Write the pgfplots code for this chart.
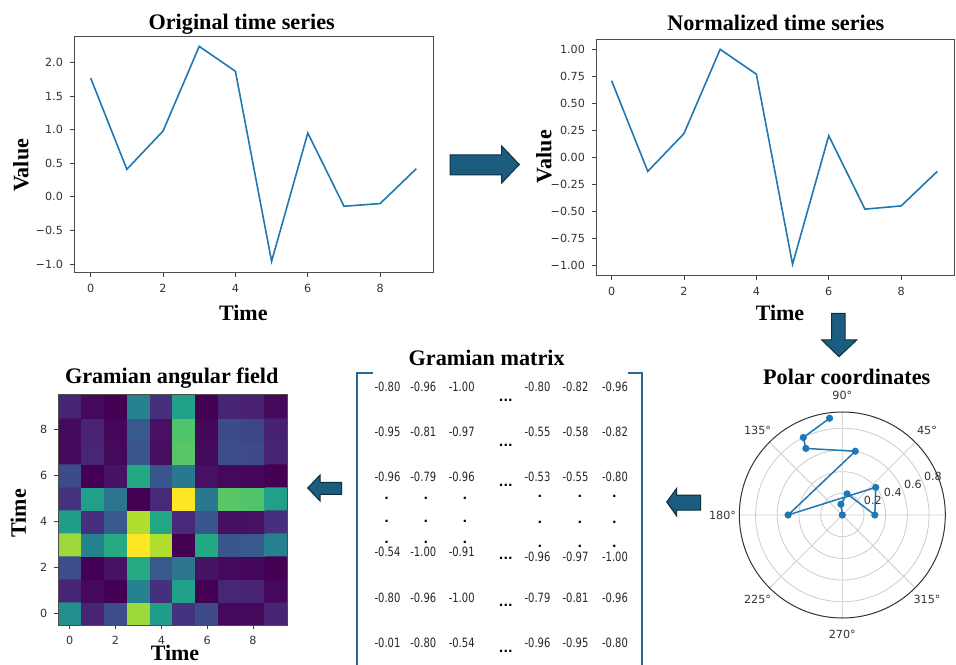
\documentclass[border=0pt]{standalone}
\usepackage{fontspec}
\setmainfont{Liberation Serif}
\newfontfamily\dejavu{DejaVu Sans}
\newfontfamily\matfont[FakeStretch=0.78]{DejaVu Sans}
\usepackage{pgfplots}
\usepackage{pgfplotstable}
\pgfplotsset{compat=1.18}
\usepgfplotslibrary{polar}
\definecolor{mplblue}{HTML}{1F77B4}
\definecolor{arrowfill}{HTML}{1C5C7E}
\definecolor{arrowdraw}{HTML}{0E2F40}
\definecolor{bracket}{HTML}{2A6A8C}
\newcommand{\tickfont}{\dejavu\fontsize{5.6}{6.5}\selectfont}
\newcommand{\titlefont}{\bfseries\fontsize{11.1}{13}\selectfont}
\newcommand{\labfont}{\bfseries\fontsize{11}{13}\selectfont}
\newcommand{\mfont}{\matfont\fontsize{6.4}{7}\selectfont}

\pgfplotstableread{
x y z
0 0 -0.01
1 0 -0.80
2 0 -0.54
3 0 0.71
4 0 0.10
5 0 -0.71
6 0 -0.55
7 0 -0.96
8 0 -0.95
9 0 -0.80
0 1 -0.80
1 1 -0.96
2 1 -1.00
3 1 -0.13
4 1 -0.73
5 1 0.13
6 1 -1.00
7 1 -0.79
8 1 -0.81
9 1 -0.96
0 2 -0.54
1 2 -1.00
2 2 -0.91
3 2 0.22
4 2 -0.45
5 2 -0.22
6 2 -0.91
7 2 -0.96
8 2 -0.97
9 2 -1.00
0 3 0.71
1 3 -0.13
2 3 0.22
3 3 1.00
4 3 0.77
5 3 -1.00
6 3 0.20
7 3 -0.48
8 3 -0.45
9 3 -0.13
0 4 0.10
1 4 -0.73
2 4 -0.45
3 4 0.77
4 4 0.19
5 4 -0.77
6 4 -0.47
7 4 -0.93
8 4 -0.92
9 4 -0.73
0 5 -0.71
1 5 0.13
2 5 -0.22
3 5 -1.00
4 5 -0.77
5 5 1.00
6 5 -0.20
7 5 0.48
8 5 0.45
9 5 0.13
0 6 -0.55
1 6 -1.00
2 6 -0.91
3 6 0.20
4 6 -0.47
5 6 -0.20
6 6 -0.92
7 6 -0.96
8 6 -0.97
9 6 -1.00
0 7 -0.96
1 7 -0.79
2 7 -0.96
3 7 -0.48
4 7 -0.93
5 7 0.48
6 7 -0.96
7 7 -0.53
8 7 -0.55
9 7 -0.80
0 8 -0.95
1 8 -0.81
2 8 -0.97
3 8 -0.45
4 8 -0.92
5 8 0.45
6 8 -0.97
7 8 -0.55
8 8 -0.58
9 8 -0.82
0 9 -0.80
1 9 -0.96
2 9 -1.00
3 9 -0.13
4 9 -0.73
5 9 0.13
6 9 -1.00
7 9 -0.80
8 9 -0.82
9 9 -0.96
}\gaf

\pgfplotsset{
  mplstyle/.style={
    scale only axis,
    tick pos=left, tick align=outside, major tick length=2pt,
    ticklabel style={font=\tickfont, text=black!80},
    tick style={black!75, line width=0.4pt},
    axis line style={black!70, line width=0.5pt},
  }
}

\begin{document}
\begin{tikzpicture}
\useasboundingbox (0,0) rectangle (478pt,332pt);

% ---------- Original time series ----------
\begin{axis}[mplstyle,
  at={(37pt,195.5pt)}, anchor=south west,
  width=179.5pt, height=118pt,
  xmin=-0.46, xmax=9.46, ymin=-1.134, ymax=2.38,
  xtick={0,2,4,6,8}, xticklabels={0,2,4,6,8},
  ytick={-1,-0.5,0,0.5,1,1.5,2},
  yticklabels={−1.0,−0.5,0.0,0.5,1.0,1.5,2.0},
]
\addplot[mplblue, line width=0.8pt] coordinates {
(0,1.77) (1,0.41) (2,0.98) (3,2.24) (4,1.87) (5,-0.96) (6,0.95) (7,-0.14) (8,-0.10) (9,0.42)};
\end{axis}

% ---------- Normalized time series ----------
\begin{axis}[mplstyle,
  at={(298pt,194pt)}, anchor=south west,
  width=179pt, height=118.35pt,
  xmin=-0.43, xmax=9.46, ymin=-1.099, ymax=1.093,
  xtick={0,2,4,6,8}, xticklabels={0,2,4,6,8},
  ytick={-1,-0.75,-0.5,-0.25,0,0.25,0.5,0.75,1},
  yticklabels={−1.00,−0.75,−0.50,−0.25,0.00,0.25,0.50,0.75,1.00},
]
\addplot[mplblue, line width=0.8pt] coordinates {
(0,0.71) (1,-0.13) (2,0.22) (3,1.00) (4,0.77) (5,-0.99) (6,0.20) (7,-0.48) (8,-0.45) (9,-0.13)};
\end{axis}

% ---------- Gramian angular field ----------
\begin{axis}[mplstyle,
  at={(29.15pt,19.5pt)}, anchor=south west,
  width=114.5pt, height=115pt,
  xmin=-0.5, xmax=9.5, ymin=-0.5, ymax=9.5,
  xtick={0,2,4,6,8}, xticklabels={0,2,4,6,8},
  ytick={0,2,4,6,8}, yticklabels={0,2,4,6,8},
  colormap/viridis, point meta min=-1, point meta max=1,
  axis on top,
]
\addplot[matrix plot*, mesh/cols=10, point meta=explicit] table[x=x, y=y, meta=z] {\gaf};
\end{axis}

% ---------- Polar coordinates ----------
\begin{polaraxis}[
  at={(421.15pt,74.5pt)}, anchor=center,
  scale only axis, width=103pt, height=103pt,
  xmin=0, xmax=360, ymin=0, ymax=0.95,
  xtick={0,45,...,315}, ytick={0.2,0.4,0.6,0.8},
  xticklabels={}, yticklabels={},
  grid=major, major grid style={black!20, line width=0.4pt},
  x axis line style={black!80, line width=0.5pt},
  y axis line style={draw=none},
  major tick length=0pt,
  clip=false,
]
\addplot[mplblue, line width=0.75pt, mark=*, mark size=1.4pt] coordinates {
(44.8,0) (97.5,0.1) (77.3,0.2) (0,0.3) (39.6,0.4) (180,0.5) (78.5,0.6) (118.7,0.7) (116.7,0.8) (97.5,0.9)};
\foreach \a in {0,45,...,315} {
  \edef\tmp{\noexpand\node[font=\noexpand\tickfont, text=black!80] at (axis cs:\a,1.105) {\a°};}
  \tmp
}
\foreach \r in {0.2,0.4,0.6,0.8} {
  \edef\tmp{\noexpand\node[font=\noexpand\tickfont, text=black!80, anchor=south west, inner sep=0.6pt] at (axis cs:22.5,\r) {\r};}
  \tmp
}
\end{polaraxis}

% ---------- annotations in pixel coordinates ----------
\begin{scope}[yshift=332pt, x=0.5pt, y=-0.5pt]
% titles
\node[font=\titlefont, anchor=base] at (241.7,29.5) {Original time series};
\node[font=\titlefont, anchor=base] at (775.8,31) {Normalized time series};
\node[font=\titlefont, anchor=base] at (486.7,365) {Gramian matrix};
\node[font=\titlefont, anchor=base] at (846.7,384.5) {Polar coordinates};
\node[font=\titlefont, anchor=base] at (171.7,384) {Gramian angular field};
% axis labels
\node[font=\labfont, rotate=90] at (20.8,165.5) {Value};
\node[font=\labfont] at (243.3,312.5) {Time};
\node[font=\labfont, rotate=90] at (544,156.7) {Value};
\node[font=\labfont] at (780,312.8) {Time};
\node[font=\labfont, rotate=90] at (18.3,513.3) {Time};
\node[font=\labfont, inner sep=1pt] at (175,653) {Time};

% arrows
\filldraw[fill=arrowfill, draw=arrowdraw, line width=0.5pt]
  (450,155) -- (501.7,155) -- (501.7,146) -- (519.3,164.5) -- (501.7,183) -- (501.7,175) -- (450,175) -- cycle;
\filldraw[fill=arrowfill, draw=arrowdraw, line width=0.5pt]
  (831.7,313.3) -- (845,313.3) -- (845,340) -- (856.7,340) -- (839,356.7) -- (821.7,340) -- (831.7,340) -- cycle;
\filldraw[fill=arrowfill, draw=arrowdraw, line width=0.5pt]
  (700.7,495) -- (676.7,495) -- (676.7,488.3) -- (666.7,502) -- (676.7,516) -- (676.7,510) -- (700.7,510) -- cycle;
\filldraw[fill=arrowfill, draw=arrowdraw, line width=0.5pt]
  (341.7,482.3) -- (320,482.3) -- (320,475) -- (307.7,488) -- (320,501) -- (320,494.3) -- (341.7,494.3) -- cycle;

% matrix brackets
\draw[bracket, line width=1pt] (372.7,372.7) -- (357.3,372.7) -- (357.3,670);
\draw[bracket, line width=1pt] (628.3,373.3) -- (641.7,373.3) -- (641.7,670);

% matrix entries
\foreach \y/\a/\b/\c in {386.7/-0.80/-0.96/-1.00, 431.7/-0.95/-0.81/-0.97, 476.7/-0.96/-0.79/-0.96,
                         551.7/-0.54/-1.00/-0.91, 598.3/-0.80/-0.96/-1.00, 643.3/-0.01/-0.80/-0.54} {
  \node[font=\mfont, text=black!85] at (387.5,\y) {\a};
  \node[font=\mfont, text=black!85] at (423.3,\y) {\b};
  \node[font=\mfont, text=black!85] at (461.7,\y) {\c};
}
\foreach \y/\a/\b/\c in {386.7/-0.80/-0.82/-0.96, 431.7/-0.55/-0.58/-0.82, 476.7/-0.53/-0.55/-0.80,
                         556.7/-0.96/-0.97/-1.00, 598.3/-0.79/-0.81/-0.96, 643.3/-0.96/-0.95/-0.80} {
  \node[font=\mfont, text=black!85] at (537.5,\y) {\a};
  \node[font=\mfont, text=black!85] at (575.5,\y) {\b};
  \node[font=\mfont, text=black!85] at (615,\y) {\c};
}
\foreach \y in {400,445,485,558,605,651.7} {
  \node[font=\dejavu\bfseries\fontsize{6}{6}\selectfont, inner sep=0pt] at (505.8,\y) {...};
}
\foreach \x in {386.7,426,465} {
  \foreach \y in {498.3,521.7,542} {
    \node[font=\dejavu\bfseries\fontsize{6}{6}\selectfont, inner sep=0pt] at (\x,\y) {.};
  }
}
\foreach \x in {540,580,614.3} {
  \foreach \y in {496.7,522.5,546} {
    \node[font=\dejavu\bfseries\fontsize{6}{6}\selectfont, inner sep=0pt] at (\x,\y) {.};
  }
}
\end{scope}
\end{tikzpicture}
\end{document}
